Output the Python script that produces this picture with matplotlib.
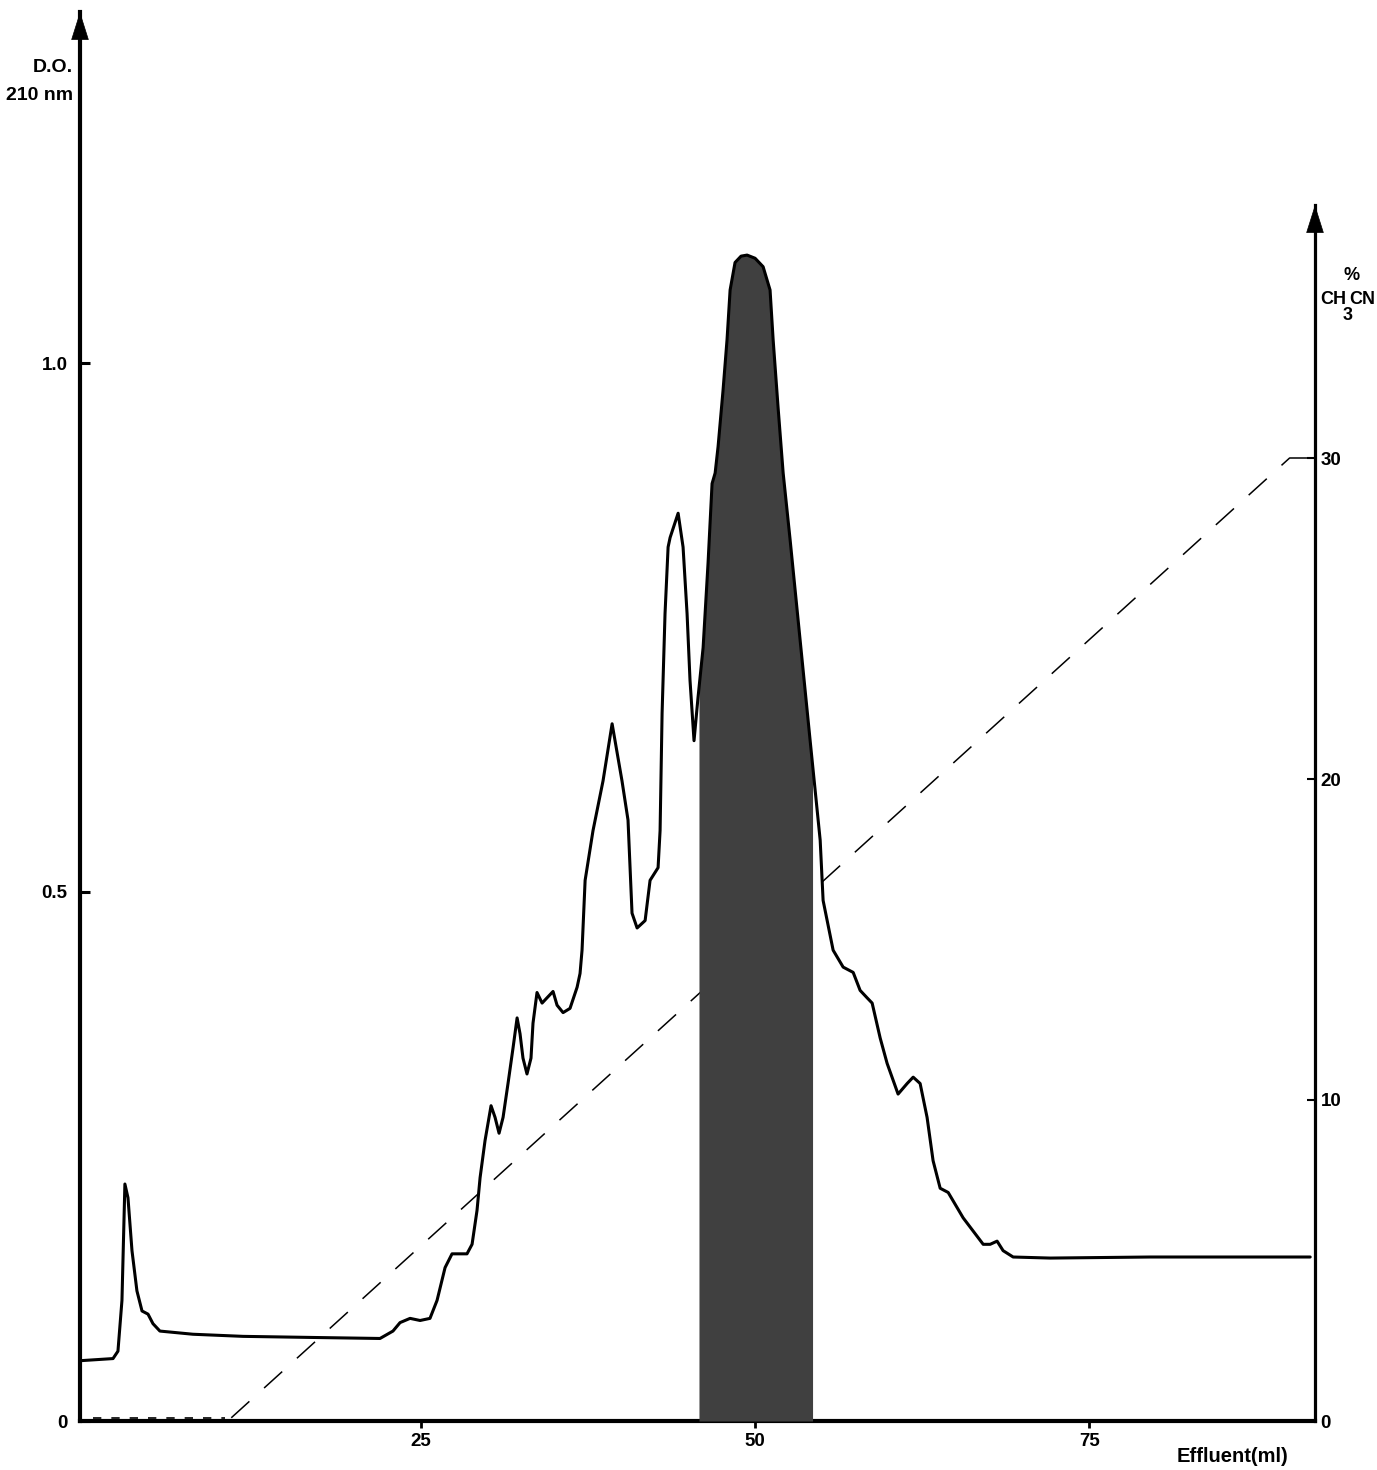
import matplotlib
matplotlib.use("Agg")
import matplotlib.pyplot as plt
import numpy as np

# ---------------- data ----------------
effluent_ml = [-0.5, 1.95, 2.32, 2.62, 2.84, 3.07, 3.37, 3.74, 4.12, 4.57, 4.94, 5.46,
               7.93, 11.68, 16.69, 21.93, 22.90, 23.43, 24.18, 24.93, 25.67, 26.20,
               26.80, 27.32, 28.44, 28.82, 29.19, 29.42, 29.79, 30.24, 30.54, 30.84,
               31.14, 31.51, 31.89, 32.19, 32.41, 32.63, 32.93, 33.23, 33.38, 33.68,
               34.06, 34.43, 34.88, 35.18, 35.63, 36.15, 36.68, 36.90, 37.05, 37.28,
               37.87, 38.62, 39.30, 40.04, 40.49, 40.79, 41.17, 41.77, 42.14, 42.74,
               42.89, 43.04, 43.26, 43.49, 43.64, 44.24, 44.61, 44.91, 45.13, 45.43,
               45.73, 46.11, 46.48, 46.78, 47.01, 47.23, 47.60, 47.90, 48.13, 48.50,
               48.95, 49.40, 50.00, 50.60, 51.12, 51.35, 51.72, 52.10, 52.62, 53.37,
               54.12, 54.87, 55.09, 55.84, 56.59, 57.34, 57.86, 58.38, 58.76, 59.36,
               59.88, 60.70, 61.38, 61.83, 62.35, 62.87, 63.32, 63.85, 64.45, 65.57,
               67.07, 67.59, 68.11, 68.56, 69.31, 72.08, 79.57, 87.05, 91.54]
od_210 = [0.057, 0.059, 0.066, 0.114, 0.224, 0.211, 0.161, 0.123, 0.104, 0.101, 0.092, 0.085,
          0.082, 0.080, 0.079, 0.078, 0.085, 0.093, 0.097, 0.095, 0.097, 0.114,
          0.145, 0.158, 0.158, 0.167, 0.199, 0.230, 0.265, 0.298, 0.287, 0.272,
          0.287, 0.319, 0.353, 0.381, 0.366, 0.343, 0.328, 0.343, 0.376, 0.405,
          0.395, 0.400, 0.406, 0.393, 0.386, 0.390, 0.410, 0.423, 0.445, 0.511,
          0.558, 0.605, 0.659, 0.605, 0.568, 0.480, 0.466, 0.473, 0.511, 0.523,
          0.558, 0.669, 0.763, 0.826, 0.835, 0.858, 0.826, 0.763, 0.700, 0.643,
          0.684, 0.731, 0.811, 0.886, 0.896, 0.921, 0.974, 1.022, 1.069, 1.095,
          1.101, 1.102, 1.099, 1.091, 1.069, 1.022, 0.958, 0.896, 0.833, 0.738,
          0.643, 0.549, 0.492, 0.445, 0.429, 0.424, 0.407, 0.400, 0.395, 0.362,
          0.338, 0.309, 0.319, 0.325, 0.319, 0.287, 0.246, 0.220, 0.216, 0.192,
          0.167, 0.167, 0.170, 0.161, 0.155, 0.154, 0.155, 0.155, 0.155]

# collected fraction (shaded)
fraction_range = [45.8, 54.3]

# acetonitrile gradient
gradient_ml = [10.8, 90.0]
gradient_pct = [0.1, 30.0]
initial_ml = [0.45, 10.3]
initial_pct = [0.1, 0.1]
hold_ml = [90.0, 92.0]
hold_pct = [30.0, 30.0]

x_ticks = [25, 50, 75]
x_ticklabels = ["25", "50", "75"]
od_ticks = [0, 0.5, 1.0]
od_ticklabels = ["0", "0.5", "1.0"]
pct_ticks = [0, 10, 20, 30]
pct_ticklabels = ["0", "10", "20", "30"]

# ---------------- figure ----------------
W, H = 1377, 1470
fig = plt.figure(figsize=(W / 100, H / 100), dpi=100)
fam = ["Liberation Sans", "DejaVu Sans"]
plt.rcParams["font.family"] = fam
plt.rcParams["font.weight"] = "bold"

left_px, right_px, bottom_px, top_px = 80, 1315, 1421, 12
ax = fig.add_axes([left_px / W, (H - bottom_px) / H,
                   (right_px - left_px) / W, (bottom_px - top_px) / H])
ax2 = ax.twinx()

ax.set_xlim(-0.52, 91.9)
ax.set_ylim(0, (bottom_px - top_px) / 1058)
ax2.set_ylim(0, (bottom_px - top_px) / 32.1)

x = np.array(effluent_ml)
y = np.array(od_210)

# shaded fraction
xf = np.linspace(fraction_range[0], fraction_range[1], 400)
yf = np.interp(xf, x, y)
ax.fill_between(xf, 0, yf, color="#404040", lw=0, zorder=3)

# trace
ax.plot(x, y, color="black", lw=2.2, solid_joinstyle="round",
        solid_capstyle="round", zorder=4)

# gradient (on right axis)
ax2.plot(initial_ml, initial_pct, color="black", lw=1.2, dashes=(5, 6), zorder=2)
ax2.plot(gradient_ml, gradient_pct, color="black", lw=1.1, dashes=(16, 13), zorder=2)
ax2.plot(hold_ml, hold_pct, color="black", lw=1.1, clip_on=False, zorder=2)
ax.set_zorder(ax2.get_zorder() + 1)
ax.patch.set_visible(False)

# spines
for s in ["top", "right"]:
    ax.spines[s].set_visible(False)
ax.spines["left"].set_linewidth(3.0)
ax.spines["bottom"].set_linewidth(3.0)
for s in ["top", "left", "bottom"]:
    ax2.spines[s].set_visible(False)
ax2.spines["right"].set_linewidth(2.3)
pct_top = (bottom_px - 205) / 32.1
ax2.spines["right"].set_bounds(0, pct_top)

# arrows
ax.annotate("", xy=(0, 1), xycoords="axes fraction", xytext=(0, 0.97),
            arrowprops=dict(arrowstyle="-|>,head_length=0.95,head_width=0.3",
                            mutation_scale=20, color="black", lw=0.5,
                            shrinkA=0, shrinkB=0), zorder=6)
ax2.annotate("", xy=(1, pct_top), xycoords=("axes fraction", "data"),
             xytext=(1, pct_top - 1.5),
             arrowprops=dict(arrowstyle="-|>,head_length=0.95,head_width=0.3",
                             mutation_scale=20, color="black", lw=0.5,
                             shrinkA=0, shrinkB=0))

# ticks
tkfont = dict(fontsize=13.5, fontweight="bold", family=fam)
ax.set_xticks(x_ticks)
ax.set_xticklabels(x_ticklabels, **tkfont)
ax.tick_params(axis="x", direction="out", length=5, width=2, pad=4)
ax.set_yticks(od_ticks)
ax.set_yticklabels(od_ticklabels, **tkfont)
ax.tick_params(axis="y", direction="in", length=7, width=2.2, pad=9)
ax2.set_yticks(pct_ticks)
ax2.set_yticklabels(pct_ticklabels, **tkfont)
ax2.tick_params(axis="y", direction="in", length=6, width=1.5, pad=4)

# labels
def ftext(px, py, s, **kw):
    fig.text(px / W, 1 - py / H, s, fontweight="bold", family=fam, **kw)

ftext(73, 68, "D.O.", fontsize=14, ha="right", va="center")
ftext(73, 96, "210 nm", fontsize=14, ha="right", va="center")
ftext(1352, 276, "%", fontsize=13, ha="center", va="center")
ftext(1346, 299, "CH", fontsize=13, ha="right", va="center")
ftext(1349, 299, "CN", fontsize=13, ha="left", va="center")
ftext(1348, 315, "3", fontsize=13, ha="center", va="center")
ftext(1232, 1456, "Effluent(ml)", fontsize=14.5, ha="center", va="center")

fig.savefig("out.png", dpi=100)
